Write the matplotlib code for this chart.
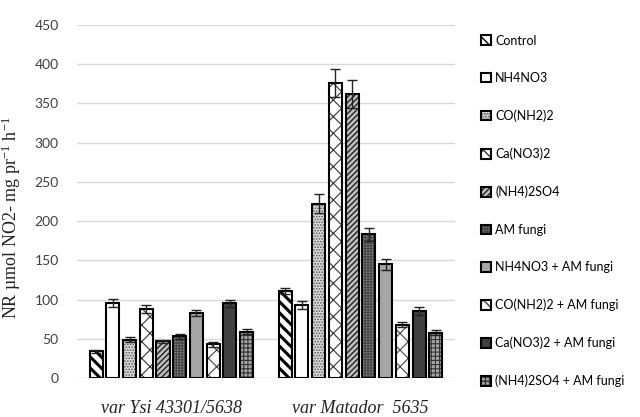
import matplotlib
matplotlib.use("Agg")
import matplotlib.pyplot as plt
import numpy as np

groups = ["var Ysi 43301/5638", "var Matador  5635"]
treatments = ["Control", "NH4NO3", "CO(NH2)2", "Ca(NO3)2", "(NH4)2SO4", "AM fungi",
              "NH4NO3 + AM fungi", "CO(NH2)2 + AM fungi", "Ca(NO3)2 + AM fungi",
              "(NH4)2SO4 + AM fungi"]
ysi_values = [34, 96, 49, 88, 47, 53, 83, 43, 95, 59]
matador_values = [111, 93, 222, 376, 362, 183, 145, 68, 85, 58]
ysi_err = [2, 5, 3, 5, 2, 3, 4, 3, 5, 3]
matador_err = [4, 5, 12, 18, 18, 8, 7, 3, 5, 3]
yticks = [0, 50, 100, 150, 200, 250, 300, 350, 400, 450]

styles = [
    dict(fc="white", hatch="\\\\\\", hc="black", hlw=2.2),
    dict(fc="white", hatch="", hc="black", hlw=1.0),
    dict(fc="#d9d9d9", hatch="......", hc="#555555", hlw=0.8),
    dict(fc="white", hatch="xx", hc="#333333", hlw=0.8),
    dict(fc="#bfbfbf", hatch="//////", hc="#222222", hlw=1.0),
    dict(fc="#7f7f7f", hatch="++++++", hc="#444444", hlw=0.8),
    dict(fc="#a6a6a6", hatch="", hc="black", hlw=1.0),
    dict(fc="white", hatch="xx", hc="#444444", hlw=0.8),
    dict(fc="#404040", hatch="", hc="black", hlw=1.0),
    dict(fc="#a6a6a6", hatch="++++", hc="#333333", hlw=0.8),
]

plt.rcParams["mathtext.fontset"] = "custom"
plt.rcParams["mathtext.rm"] = "Liberation Serif"
plt.rcParams["mathtext.it"] = "Liberation Serif:italic"

fig = plt.figure(figsize=(6.4, 4.17), dpi=100)
ax = fig.add_axes([0.12, 0.0935, 0.591, 0.8465])

n = len(treatments)
group_w = 0.885
pitch = group_w / n
bw = pitch * 0.78
x = np.arange(len(groups))
data = np.array([ysi_values, matador_values]).T
errs = np.array([ysi_err, matador_err]).T

handles = []
for i in range(n):
    s = styles[i]
    pos = x - group_w / 2 + pitch * (i + 0.5)
    bars = ax.bar(pos, data[i], width=bw, color=s["fc"], edgecolor="black",
                  linewidth=1.5, hatch=s["hatch"], zorder=3, label=treatments[i])
    for b in bars:
        b._hatch_color = matplotlib.colors.to_rgba(s["hc"])
        try:
            b.set_hatch_linewidth(s["hlw"])
        except Exception:
            pass
    ax.errorbar(pos, data[i], yerr=errs[i], fmt="none", ecolor="#222222",
                elinewidth=1.0, capsize=3.5, capthick=1.0, zorder=4)
    handles.append(bars)

ax.set_ylim(0, 450)
ax.set_xlim(-0.5, 1.5)
ax.set_yticks(yticks)
ax.set_yticklabels([str(v) for v in yticks], fontname="Lato", fontsize=10, color="#404040")
ax.set_xticks(x)
ax.set_xticklabels(groups, fontname="Liberation Serif", fontsize=13, style="italic",
                   color="#222222")
ax.tick_params(axis="both", length=0)
ax.tick_params(axis="x", pad=16)
ax.tick_params(axis="y", pad=13)
ax.grid(axis="y", color="#d9d9d9", linewidth=1.0, zorder=0)
for sp in ax.spines.values():
    sp.set_visible(False)

ax.set_ylabel("NR µmol NO2- mg pr$^{-1}$ h$^{-1}$", fontname="Liberation Serif",
              fontsize=13, color="#222222")
ax.yaxis.set_label_coords(-0.143, 0.455)

leg = ax.legend(handles=handles, labels=treatments, loc="upper left",
                bbox_to_anchor=(1.04, 1.005), frameon=False,
                prop={"family": "Lato", "size": 9}, handlelength=0.8,
                handleheight=0.8, handletextpad=0.3, labelspacing=2.04)

fig.savefig("out.png", dpi=100)
